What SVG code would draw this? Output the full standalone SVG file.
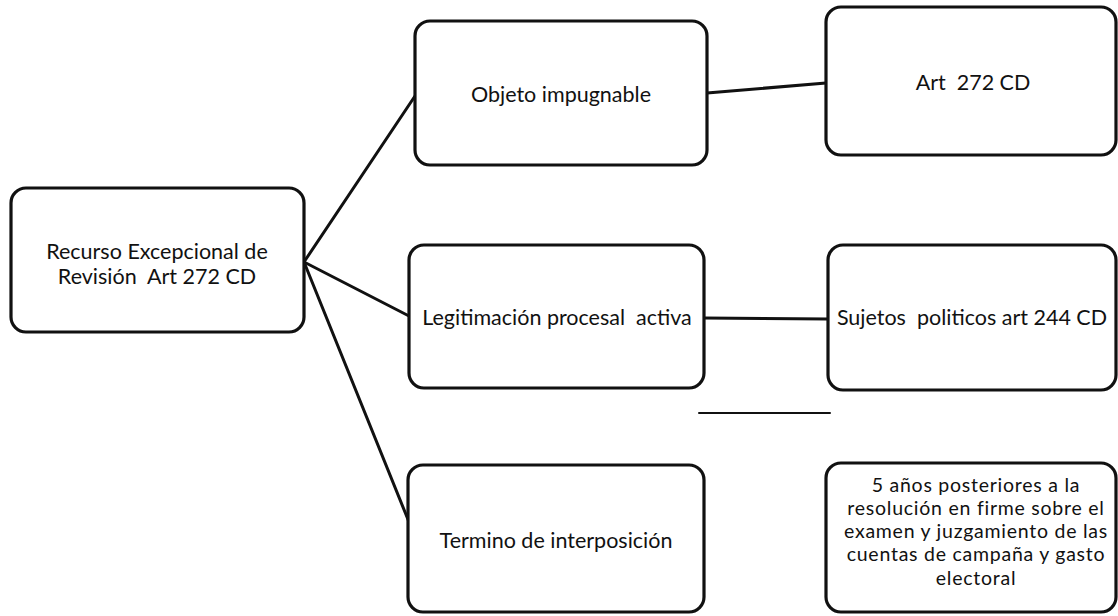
<svg xmlns="http://www.w3.org/2000/svg" width="1118" height="616" viewBox="0 0 1118 616">
  <style>
    .box { fill: #ffffff; stroke: #111111; stroke-width: 3.2; }
    .lbl { font-family: Lato, "Open Sans", "Liberation Sans", sans-serif; font-size: 21.5px; fill: #111111; text-anchor: middle; white-space: pre; }
    .small { font-size: 19.5px; letter-spacing: 0.75px; }
    .wire { stroke: #111111; stroke-width: 3; fill: none; stroke-linecap: round; }
  </style>
  <rect width="1118" height="616" fill="#ffffff"/>

  <g id="connectors">
    <line class="wire" x1="304" y1="262" x2="415" y2="96"/>
    <line class="wire" x1="304" y1="262" x2="409" y2="316"/>
    <line class="wire" x1="304" y1="262" x2="409" y2="522"/>
    <line class="wire" x1="707" y1="93" x2="826" y2="83"/>
    <line class="wire" x1="704" y1="318" x2="828" y2="319"/>
    <line class="wire" x1="699" y1="413" x2="830" y2="413" style="stroke-width:2"/>
  </g>

  <g id="recurso">
    <rect class="box" x="11" y="188" width="293" height="144" rx="15"/>
    <text class="lbl" x="157" y="259">Recurso Excepcional de</text>
    <text class="lbl" x="157" y="284">Revisión  Art 272 CD</text>
  </g>

  <g id="objeto">
    <rect class="box" x="415" y="21" width="292" height="144" rx="15"/>
    <text class="lbl" x="561" y="102">Objeto impugnable</text>
  </g>

  <g id="art272">
    <rect class="box" x="826" y="7" width="290" height="148" rx="15"/>
    <text class="lbl" x="973" y="90">Art  272 CD</text>
  </g>

  <g id="legitimacion">
    <rect class="box" x="409" y="245" width="295" height="143" rx="15"/>
    <text class="lbl" x="557" y="325">Legitimación procesal  activa</text>
  </g>

  <g id="sujetos">
    <rect class="box" x="828" y="245" width="288" height="145" rx="15"/>
    <text class="lbl" x="972" y="325">Sujetos  politicos art 244 CD</text>
  </g>

  <g id="termino">
    <rect class="box" x="408" y="465" width="296" height="147" rx="15"/>
    <text class="lbl" x="556" y="548">Termino de interposición</text>
  </g>

  <g id="plazo">
    <rect class="box" x="826" y="463" width="290" height="149" rx="15"/>
    <text class="lbl small" x="976" y="492">5 años posteriores a la</text>
    <text class="lbl small" x="976" y="515">resolución en firme sobre el</text>
    <text class="lbl small" x="976" y="538">examen y juzgamiento de las</text>
    <text class="lbl small" x="976" y="561">cuentas de campaña y gasto</text>
    <text class="lbl small" x="976" y="585">electoral</text>
  </g>
</svg>
